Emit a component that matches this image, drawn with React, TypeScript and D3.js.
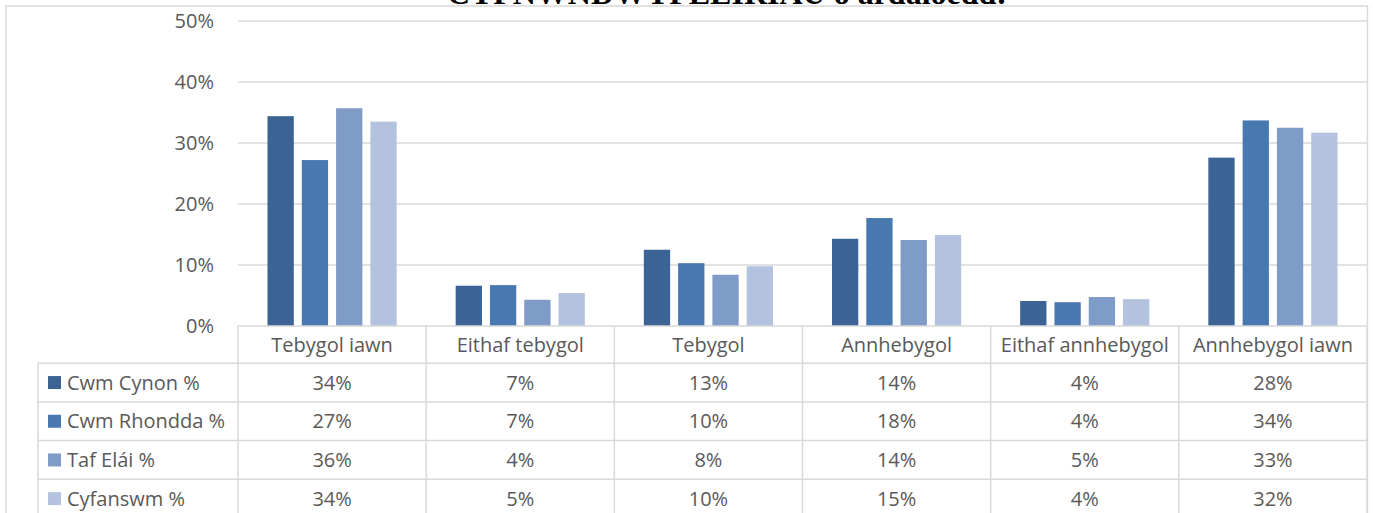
import React from "react";
import * as d3 from "d3";

const categories = ["Tebygol iawn", "Eithaf tebygol", "Tebygol", "Annhebygol", "Eithaf annhebygol", "Annhebygol iawn"];
const seriesNames = ["Cwm Cynon %", "Cwm Rhondda %", "Taf Elái %", "Cyfanswm %"];
const cwmCynon = [34.4, 6.6, 12.5, 14.3, 4.1, 27.6];
const cwmRhondda = [27.2, 6.7, 10.3, 17.7, 3.9, 33.7];
const tafElai = [35.7, 4.3, 8.4, 14.1, 4.75, 32.5];
const cyfanswm = [33.5, 5.4, 9.8, 14.9, 4.4, 31.7];
const cwmCynonLabels = ["34%", "7%", "13%", "14%", "4%", "28%"];
const cwmRhonddaLabels = ["27%", "7%", "10%", "18%", "4%", "34%"];
const tafElaiLabels = ["36%", "4%", "8%", "14%", "5%", "33%"];
const cyfanswmLabels = ["34%", "5%", "10%", "15%", "4%", "32%"];
const yTicks = [0, 10, 20, 30, 40, 50];
const colors = ["#3b6494", "#4878b0", "#7f9bc7", "#b3c3df"];
const title = "CYFNWNDWYFLEIRIAU o ardaloedd:";

export default function App() {
  const W = 1373, H = 513;
  const plotLeft = 238, plotRight = 1367, plotTop = 21, plotBottom = 326;
  const font = "'Open Sans', sans-serif";
  const textColor = "#595959";
  const lineColor = "#d9d9d9";

  const x = d3.scaleBand<string>().domain(categories).range([plotLeft, plotRight]).paddingInner(0).paddingOuter(0);
  const inner = d3.scaleBand<string>().domain(seriesNames).range([0, x.bandwidth()]).paddingInner(0.233).paddingOuter(0.86);
  const y = d3.scaleLinear().domain([0, 50]).range([plotBottom, plotTop]);

  const values = [cwmCynon, cwmRhondda, tafElai, cyfanswm];
  const labels = [cwmCynonLabels, cwmRhonddaLabels, tafElaiLabels, cyfanswmLabels];

  const headerBottom = 363.2;
  const rowH = 38.7;
  const tableLeft = 38;
  const rowLines = d3.range(0, 5).map((i) => headerBottom + i * rowH);

  return (
    <svg width={W} height={H} style={{ position: "absolute", left: 0, top: 0, background: "#fff" }} fontFamily={font}>
      <rect x={0} y={0} width={W} height={H} fill="#fff" />
      {/* chart border */}
      <rect x={6} y={6} width={1361.5} height={H + 20} fill="none" stroke={lineColor} strokeWidth={1.5} />
      {/* title (cut off at the top, as in the source) */}
      <text x={727} y={4} textAnchor="middle" fontFamily="'Liberation Serif', serif" fontWeight="bold" fontSize={32} fill="#000">
        {title}
      </text>
      {/* gridlines */}
      {yTicks.map((t) => (
        <g key={t}>
          {t > 0 && <line x1={plotLeft} x2={plotRight} y1={y(t)} y2={y(t)} stroke={lineColor} strokeWidth={1.5} />}
          <text x={214} y={y(t)} dy="0.35em" textAnchor="end" fontSize={20} fill={textColor}>
            {t}%
          </text>
        </g>
      ))}
      {/* bars */}
      {categories.map((c, ci) => (
        <g key={c}>
          {seriesNames.map((s, si) => (
            <rect
              key={s}
              x={(x(c) as number) + (inner(s) as number)}
              y={y(values[si][ci])}
              width={inner.bandwidth()}
              height={plotBottom - y(values[si][ci])}
              fill={colors[si]}
            />
          ))}
        </g>
      ))}
      {/* table lines */}
      <line x1={plotLeft} x2={plotRight} y1={plotBottom} y2={plotBottom} stroke={lineColor} strokeWidth={1.5} />
      {rowLines.map((ry, i) => (
        <line key={i} x1={tableLeft} x2={plotRight} y1={ry} y2={ry} stroke={lineColor} strokeWidth={1.5} />
      ))}
      <line x1={tableLeft} x2={tableLeft} y1={headerBottom} y2={H + 10} stroke={lineColor} strokeWidth={1.5} />
      {categories.map((c) => (
        <line key={c} x1={x(c) as number} x2={x(c) as number} y1={plotBottom} y2={H + 10} stroke={lineColor} strokeWidth={1.5} />
      ))}
      <line x1={plotRight} x2={plotRight} y1={plotBottom} y2={H + 10} stroke={lineColor} strokeWidth={1.5} />
      {/* header */}
      {categories.map((c) => (
        <text key={c} x={(x(c) as number) + x.bandwidth() / 2} y={(plotBottom + headerBottom) / 2} dy="0.35em" textAnchor="middle" fontSize={20} fill={textColor}>
          {c}
        </text>
      ))}
      {/* rows */}
      {seriesNames.map((s, si) => {
        const cy = headerBottom + si * rowH + rowH / 2;
        return (
          <g key={s}>
            <rect x={48} y={cy - 6.5} width={13} height={13} fill={colors[si]} />
            <text x={67} y={cy} dy="0.35em" fontSize={20} fill={textColor}>
              {s}
            </text>
            {categories.map((c, ci) => (
              <text key={c} x={(x(c) as number) + x.bandwidth() / 2} y={cy} dy="0.35em" textAnchor="middle" fontSize={20} fill={textColor}>
                {labels[si][ci]}
              </text>
            ))}
          </g>
        );
      })}
    </svg>
  );
}
